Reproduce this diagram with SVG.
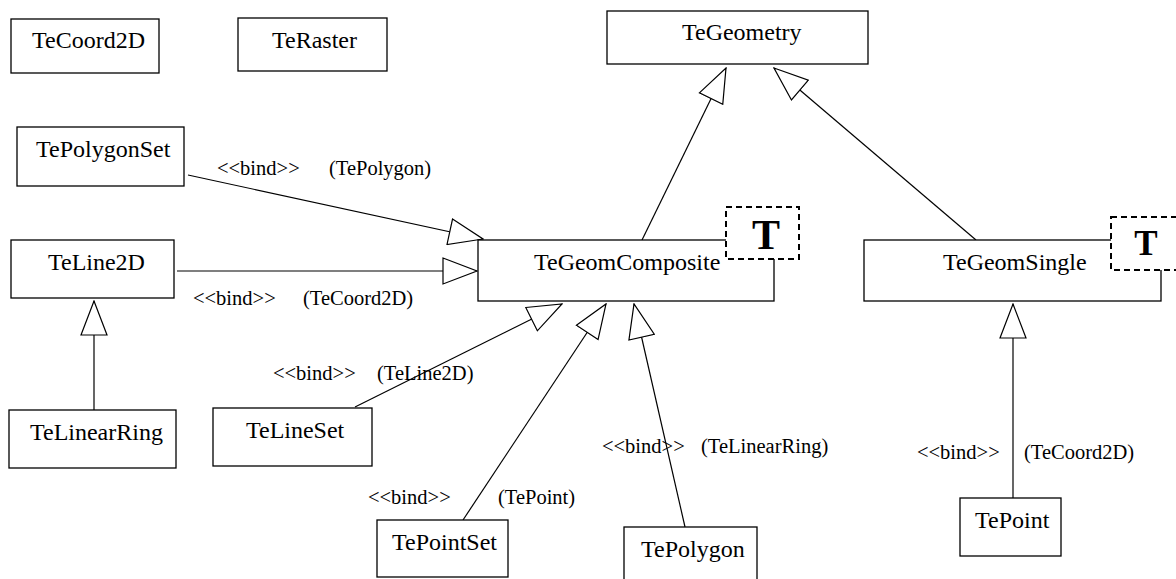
<svg xmlns="http://www.w3.org/2000/svg" width="1176" height="579" viewBox="0 0 1176 579">
<defs>
<style>
.box{fill:#fff;stroke:#000;stroke-width:1.3}
.tbox{fill:#fff;stroke:#000;stroke-width:2;stroke-dasharray:6 4}
.name{font-family:"Liberation Serif","Times New Roman",serif;font-size:24px;fill:#000}
.lbl{font-family:"Liberation Serif","Times New Roman",serif;font-size:20.5px;fill:#000}
.tt{font-family:"Liberation Serif","Times New Roman",serif;font-weight:bold;fill:#000}
.edge{stroke:#000;stroke-width:1.2;fill:none;marker-end:url(#gen)}
</style>
<marker id="gen" markerUnits="userSpaceOnUse" viewBox="-1 -14 36 28" refX="34" refY="0" markerWidth="36" markerHeight="28" orient="auto">
<path d="M0,-13 L34,0 L0,13 Z" fill="#fff" stroke="#000" stroke-width="1.2"/>
</marker>
</defs>
<rect width="1176" height="579" fill="#fff"/>
<g id="connectors">
<line class="edge" x1="642" y1="240" x2="726" y2="68"/>
<line class="edge" x1="976" y1="240" x2="774" y2="68"/>
<line class="edge" x1="188" y1="175" x2="483" y2="239"/>
<line class="edge" x1="177" y1="271" x2="477" y2="271"/>
<line class="edge" x1="355" y1="407" x2="562" y2="304"/>
<line class="edge" x1="463" y1="520" x2="606" y2="304"/>
<line class="edge" x1="685" y1="527" x2="634" y2="304"/>
<line class="edge" x1="1013" y1="498" x2="1013" y2="304"/>
<line class="edge" x1="94" y1="410" x2="94" y2="301"/>
<text class="lbl" x="217" y="175">&lt;&lt;bind&gt;&gt;</text>
<text class="lbl" x="329" y="175">(TePolygon)</text>
<text class="lbl" x="193" y="305">&lt;&lt;bind&gt;&gt;</text>
<text class="lbl" x="303" y="305">(TeCoord2D)</text>
<text class="lbl" x="273" y="380">&lt;&lt;bind&gt;&gt;</text>
<text class="lbl" x="377" y="380">(TeLine2D)</text>
<text class="lbl" x="368" y="504">&lt;&lt;bind&gt;&gt;</text>
<text class="lbl" x="498" y="504">(TePoint)</text>
<text class="lbl" x="602" y="453">&lt;&lt;bind&gt;&gt;</text>
<text class="lbl" x="701" y="453">(TeLinearRing)</text>
<text class="lbl" x="917" y="459">&lt;&lt;bind&gt;&gt;</text>
<text class="lbl" x="1024" y="459">(TeCoord2D)</text>
</g>
<g id="TeCoord2D"><rect class="box" x="11" y="19" width="148" height="54"/><text class="name" x="32" y="48">TeCoord2D</text></g>
<g id="TeRaster"><rect class="box" x="238" y="18" width="149" height="53"/><text class="name" x="272" y="48">TeRaster</text></g>
<g id="TeGeometry"><rect class="box" x="607" y="11" width="261" height="53"/><text class="name" x="682" y="40">TeGeometry</text></g>
<g id="TePolygonSet"><rect class="box" x="17" y="127" width="167" height="59"/><text class="name" x="36" y="157">TePolygonSet</text></g>
<g id="TeLine2D"><rect class="box" x="11" y="240" width="163" height="58"/><text class="name" x="48" y="270">TeLine2D</text></g>
<g id="TeGeomComposite"><rect class="box" x="478" y="240" width="296" height="61"/><text class="name" x="534" y="270">TeGeomComposite</text><rect class="tbox" x="726" y="207" width="73" height="52"/><text class="tt" x="766" y="249" font-size="42" text-anchor="middle">T</text></g>
<g id="TeGeomSingle"><rect class="box" x="864" y="240" width="297" height="61"/><text class="name" x="943" y="270">TeGeomSingle</text><rect class="tbox" x="1111" y="217" width="73" height="53"/><text class="tt" x="1146" y="255" font-size="35" text-anchor="middle">T</text></g>
<g id="TeLinearRing"><rect class="box" x="9" y="410" width="167" height="58"/><text class="name" x="30" y="440">TeLinearRing</text></g>
<g id="TeLineSet"><rect class="box" x="213" y="408" width="159" height="58"/><text class="name" x="246" y="438">TeLineSet</text></g>
<g id="TePointSet"><rect class="box" x="377" y="520" width="131" height="57"/><text class="name" x="392" y="550">TePointSet</text></g>
<g id="TePolygon"><rect class="box" x="624" y="527" width="133" height="70"/><text class="name" x="641" y="557">TePolygon</text></g>
<g id="TePoint"><rect class="box" x="960" y="498" width="101" height="58"/><text class="name" x="975" y="528">TePoint</text></g>
</svg>
